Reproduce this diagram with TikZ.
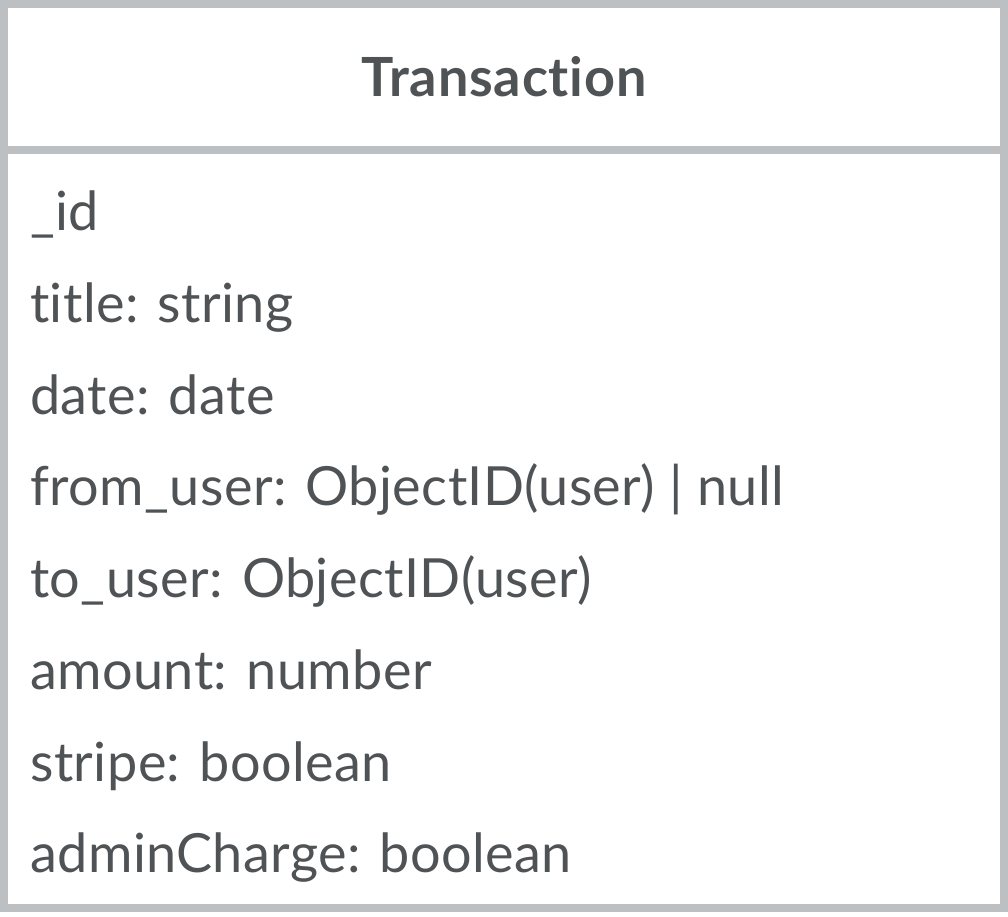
\documentclass[tikz,border=0pt]{standalone}
\usepackage{fontspec}
\setmainfont{Lato}[Ligatures={NoCommon}]
\usepackage{xcolor}
\usetikzlibrary{positioning}

\definecolor{framegray}{HTML}{BCC0C2}
\definecolor{textgray}{HTML}{4F5355}

\begin{document}
\begin{tikzpicture}[
    x=1pt, y=-1pt,
    frame/.style={
        draw=framegray,
        line width=8pt
    },
    titletext/.style={
        text=textgray,
        font=\fontsize{54}{62}\selectfont\bfseries\addfontfeature{LetterSpace=1.5},
        anchor=center
    },
    field/.style={
        text=textgray,
        font=\fontsize{54}{62}\selectfont\addfontfeature{LetterSpace=0.8},
        anchor=base west,
        inner sep=0pt
    }
]
\useasboundingbox (0,0) rectangle (1008,916);

% class box
\draw[frame] (4,4) rectangle (1004,908);
\draw[frame] (4,150) -- (1004,150);

% header
\node[titletext] (name) at (504,77) {Transaction};

% fields
\node[field] (id) at (30,230) {\_id};
\node[field] (title) at (30,322) {title: string};
\node[field] (date) at (30,414) {date: date};
\node[field] (from) at (30,505) {from\_user: ObjectID(user) | null};
\node[field] (to) at (30,597) {to\_user: ObjectID(user)};
\node[field] (amount) at (30,689) {amount: number};
\node[field] (stripe) at (30,781) {stripe: boolean};
\node[field] (admin) at (30,872) {adminCharge: boolean};

\end{tikzpicture}
\end{document}
